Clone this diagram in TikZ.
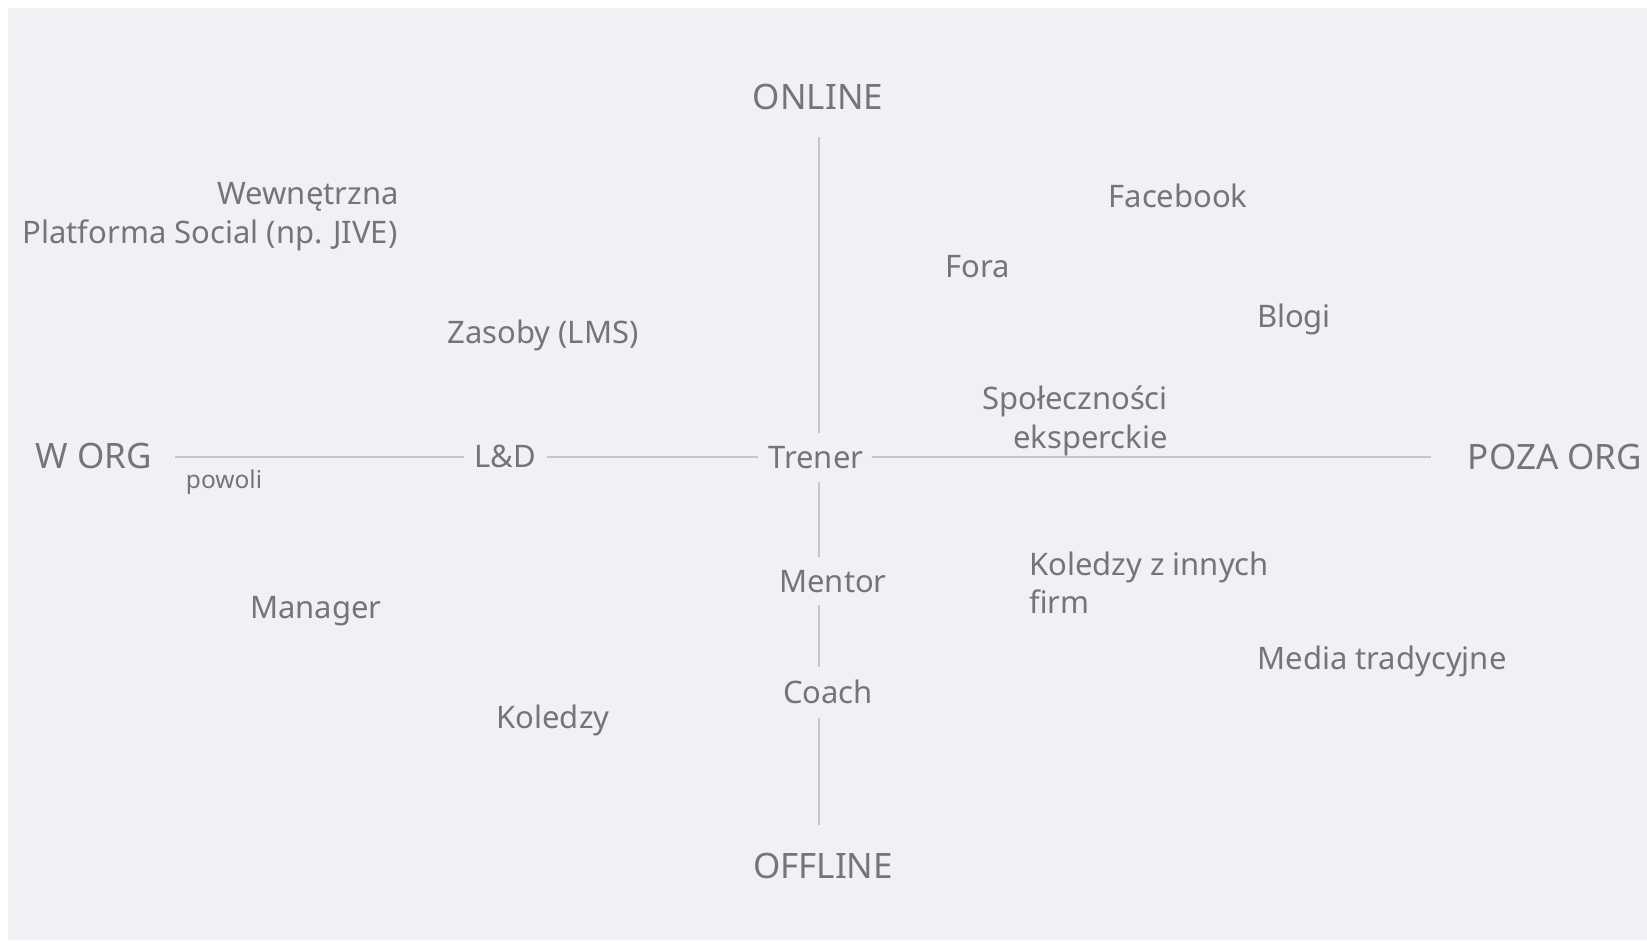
\documentclass[tikz,border=0pt]{standalone}
\usepackage{fontspec}
\setmainfont{Noto Sans}
\definecolor{txtgray}{HTML}{747479}
\definecolor{axisgray}{HTML}{C6C6CB}
\definecolor{bggray}{HTML}{F1F1F5}
\begin{document}
\begin{tikzpicture}[x=1pt,y=1pt]
\tikzstyle{every node}+=[inner sep=0pt, text=txtgray]
\tikzstyle{lab}=[font=\fontsize{31}{37}\selectfont, text height=22pt, text depth=0pt, anchor=base]
\tikzstyle{big}=[font=\fontsize{35}{42}\selectfont, text height=25pt, text depth=0pt, anchor=base]
\tikzstyle{small}=[font=\fontsize{24.5}{29}\selectfont, anchor=base]
\tikzstyle{axis}=[draw=axisgray, line width=2pt]
\useasboundingbox (0,0) rectangle (1647,-940);
\fill [white] (0,0) rectangle (1647,-940);
\fill [bggray] (8,-8) rectangle (1647,-940);
\coordinate (hor) at (0,-457);
\coordinate (ver) at (819,0);
% axis ends
\node [big] (online) at (818,-109) {ONLINE};
\node [big] (offline) at (823,-878) {OFFLINE};
\node [big] (worg) at (94,-468) {W ORG};
\node [big] (pozaorg) at (1555,-469) {POZA ORG};
% on the axes
\node [lab] (ld) at (505,-467) {L\&D};
\node [lab] (trener) at (816,-468) {Trener};
\node [lab] (mentor) at (833,-592) {Mentor};
\node [lab] (coach) at (828,-703) {Coach};
\node [small] (powoli) at (224,-488) {powoli};
% w org
\node [lab] (wewn) at (308,-204) {Wewnętrzna};
\node [lab] (platforma) at (210,-243) {Platforma Social (np. JIVE)};
\node [lab] (zasoby) at (543,-343) {Zasoby (LMS)};
\node [lab] (manager) at (316,-618) {Manager};
\node [lab] (koledzy) at (553,-728) {Koledzy};
% poza org
\node [lab] (facebook) at (1178,-207) {Facebook};
\node [lab] (fora) at (978,-277) {Fora};
\node [lab] (blogi) at (1294,-327) {Blogi};
\node [lab, anchor=base east] (spol) at (1168,-409) {Społeczności};
\node [lab, anchor=base east] (eksp) at (1168,-448) {eksperckie};
\node [lab, anchor=base west] (kolinne) at (1029,-575) {Koledzy z innych};
\node [lab, anchor=base west] (firm) at (1029,-613) {firm};
\node [lab] (media) at (1382,-669) {Media tradycyjne};
% horizontal axis
\draw [axis, shorten <=23pt, shorten >=10pt] (worg.east |- hor) -- (ld.west |- hor);
\draw [axis, shorten <=11pt, shorten >=10pt] (ld.east |- hor) -- (trener.west |- hor);
\draw [axis, shorten <=8pt, shorten >=37pt] (trener.east |- hor) -- (pozaorg.west |- hor);
% vertical axis
\draw [axis, shorten <=28pt, shorten >=13pt] (online.south -| ver) -- (trener.north -| ver);
\draw [axis, shorten <=14pt, shorten >=13pt] (trener.south -| ver) -- (mentor.north -| ver);
\draw [axis, shorten <=13pt, shorten >=14pt] (mentor.south -| ver) -- (coach.north -| ver);
\draw [axis, shorten <=15pt, shorten >=28pt] (coach.south -| ver) -- (offline.north -| ver);
\end{tikzpicture}
\end{document}
